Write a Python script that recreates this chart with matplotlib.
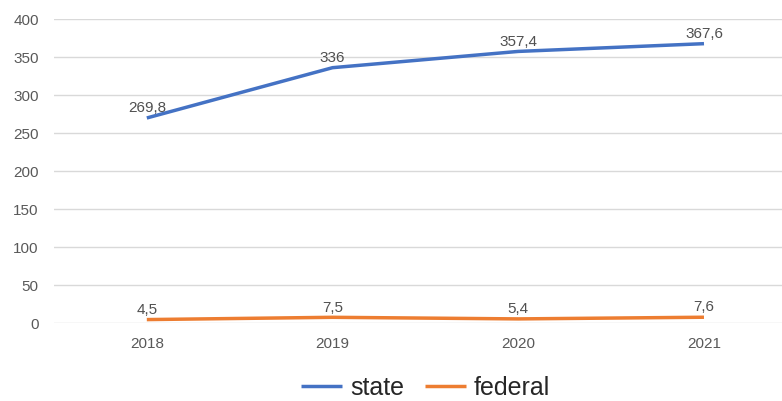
import matplotlib.pyplot as plt

years = ['2018', '2019', '2020', '2021']
state = [269.8, 336, 357.4, 367.6]
federal = [4.5, 7.5, 5.4, 7.6]
state_lbl = ['269,8', '336', '357,4', '367,6']
federal_lbl = ['4,5', '7,5', '5,4', '7,6']

plt.rcParams['font.family'] = ['Liberation Sans', 'DejaVu Sans']

fig = plt.figure(figsize=(7.82, 4.01), dpi=100)
ax = fig.add_axes([0.069, 0.1945, 0.931, 0.758])

x = list(range(len(years)))
ax.plot(x, state, color='#4472C4', lw=2.5, label='state', solid_capstyle='butt')
ax.plot(x, federal, color='#ED7D31', lw=2.5, label='federal', solid_capstyle='butt')

for xi, v, t in zip(x, state, state_lbl):
    ax.annotate(t, (xi, v), xytext=(0, 2), textcoords='offset points',
                ha='center', va='bottom', fontsize=11, color='#505050')
for xi, v, t in zip(x, federal, federal_lbl):
    ax.annotate(t, (xi, v), xytext=(0, 2), textcoords='offset points',
                ha='center', va='bottom', fontsize=11, color='#505050')

ax.set_xlim(-0.5, 3.42)
ax.set_ylim(0, 400)
ax.set_yticks(range(0, 401, 50))
ax.set_xticks(x)
ax.set_xticklabels(years)
ax.grid(axis='y', color='#D9D9D9', lw=1)
ax.set_axisbelow(True)
for s in ax.spines.values():
    s.set_visible(False)
ax.tick_params(length=0, labelsize=11, colors='#595959', pad=11)
ax.tick_params(axis='x', pad=10)

# legend centred on the full (uncropped) chart width
fig.legend(loc='center', bbox_to_anchor=(0.544, 0.032), ncol=2, frameon=False,
           fontsize=18, handlelength=1.67, columnspacing=0.83, handletextpad=0.3,
           labelcolor='#262626')

fig.savefig('out.png', dpi=100)
